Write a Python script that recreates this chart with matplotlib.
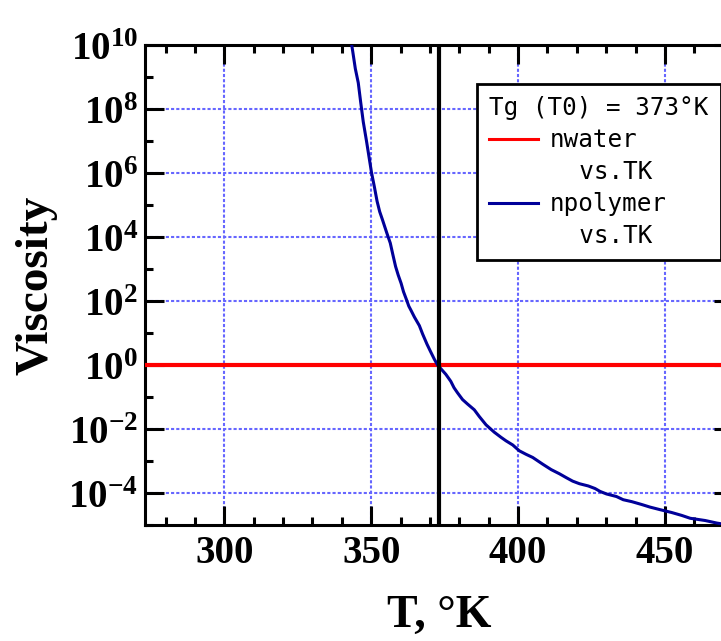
import matplotlib
matplotlib.use("Agg")
import matplotlib.pyplot as plt
from matplotlib.lines import Line2D
from matplotlib.ticker import FixedLocator, MultipleLocator, NullFormatter
from matplotlib.transforms import ScaledTranslation

# values (T in K, log10 of viscosity)
T_polymer = [343.2, 343.7, 344.6, 345.6, 346.4, 347.3, 348.4, 349.3, 350.1, 351.1,
             352.0, 352.9, 353.8, 355.3, 356.5, 357.4, 358.3, 359.2, 360.2, 361.0,
             361.9, 362.8, 363.6, 364.7, 366.4, 367.5, 369.0, 370.1, 371.5, 372.6,
             375.4, 377.1, 378.2, 379.4, 381.1, 382.8, 385.1, 386.8, 389.1, 391.9,
             394.2, 395.9, 398.2, 400.4, 402.7, 405.0, 408.4, 411.3, 414.1, 416.4,
             418.6, 420.9, 423.9, 426.2, 427.9, 430.1, 433.5, 435.8, 438.7, 442.1,
             444.9, 448.3, 452.3, 455.7, 458.6, 463.7, 467.7, 473.0]
log_eta_polymer = [10.1, 9.81, 9.26, 8.82, 8.23, 7.60, 7.0, 6.48, 6.02, 5.56,
                   5.12, 4.79, 4.55, 4.13, 3.81, 3.44, 3.08, 2.81, 2.55, 2.29,
                   2.07, 1.84, 1.70, 1.50, 1.23, 0.97, 0.65, 0.44, 0.18, 0.0,
                   -0.29, -0.51, -0.71, -0.87, -1.08, -1.22, -1.40, -1.61, -1.87, -2.10,
                   -2.26, -2.37, -2.50, -2.68, -2.79, -2.89, -3.10, -3.27, -3.40, -3.52,
                   -3.63, -3.71, -3.78, -3.86, -3.95, -4.03, -4.11, -4.21, -4.27, -4.36,
                   -4.44, -4.52, -4.61, -4.70, -4.79, -4.86, -4.94, -5.02]
T_water = [273, 473]
eta_water = [1.0, 1.0]
Tg = 373

x_major = [300, 350, 400, 450]
y_major_exp = [-4, -2, 0, 2, 4, 6, 8, 10]
y_minor_exp = [-5, -3, -1, 1, 3, 5, 7, 9]

eta_polymer = [10.0 ** v for v in log_eta_polymer]

plt.rcParams['mathtext.fontset'] = 'custom'
plt.rcParams['mathtext.rm'] = 'Liberation Serif:bold'
plt.rcParams['mathtext.bf'] = 'Liberation Serif:bold'
plt.rcParams['mathtext.it'] = 'Liberation Serif:bold:italic'

fig = plt.figure(figsize=(7.21, 6.41), dpi=100)
ax = fig.add_axes([145 / 721, 116 / 641, 587.5 / 721, 480 / 641])

ax.plot(T_water, eta_water, color='#ff0000', lw=3, zorder=3, solid_capstyle='butt')
ax.plot(T_polymer, eta_polymer, color='#000099', lw=2.2, zorder=4)
ax.axvline(Tg, color='black', lw=3, zorder=5)

ax.set_yscale('log')
ax.set_xlim(273, 473)
ax.set_ylim(1e-5, 1e10)

ax.xaxis.set_major_locator(FixedLocator(x_major))
ax.xaxis.set_minor_locator(MultipleLocator(10))
ax.yaxis.set_major_locator(FixedLocator([10.0 ** e for e in y_major_exp]))
ax.yaxis.set_minor_locator(FixedLocator([10.0 ** e for e in y_minor_exp]))
ax.yaxis.set_minor_formatter(NullFormatter())
ax.set_xticklabels([str(v) for v in x_major], fontfamily='Liberation Serif',
                   fontweight='bold', fontsize=28)
ax.set_yticklabels(['$10^{%d}$' % e for e in y_major_exp], fontsize=28)
shift = ScaledTranslation(0, 7 / 100, fig.dpi_scale_trans)
for lab in ax.get_yticklabels():
    lab.set_transform(lab.get_transform() + shift)

ax.tick_params(which='both', direction='in', top=True, right=True, width=2.2)
ax.tick_params(which='major', length=13.7)
ax.tick_params(which='minor', length=5.8)
ax.tick_params(axis='y', pad=5)
ax.tick_params(axis='x', pad=7)
for s in ax.spines.values():
    s.set_linewidth(2.2)

ax.grid(which='major', color='#6666ff', linestyle=(0, (1.5, 1)), linewidth=1.5)
ax.set_axisbelow(True)

ax.set_xlabel('T, °K', fontfamily='Liberation Serif', fontweight='bold',
              fontsize=33, labelpad=17)
ax.set_ylabel('Viscosity', fontfamily='Liberation Serif', fontweight='bold',
              fontsize=34, labelpad=8)

handles = [Line2D([], [], color='#ff0000', lw=2.2),
           Line2D([], [], color='none'),
           Line2D([], [], color='#000099', lw=2.2),
           Line2D([], [], color='none')]
labels = ['nwater', '  vs.TK', 'npolymer', '  vs.TK']
leg = ax.legend(handles, labels, title='Tg (T0) = 373°K', loc='upper left',
                bbox_to_anchor=(0.565, 0.919), fancybox=False, framealpha=1,
                edgecolor='black', prop={'family': 'DejaVu Sans Mono', 'size': 17.5},
                title_fontproperties={'family': 'DejaVu Sans Mono', 'size': 17.5},
                handlelength=2.0, handletextpad=0.5, labelspacing=0.33,
                borderpad=0.5, borderaxespad=0)
leg._legend_box.align = 'left'
leg.get_frame().set_linewidth(2)

fig.savefig('out.png', dpi=100)
